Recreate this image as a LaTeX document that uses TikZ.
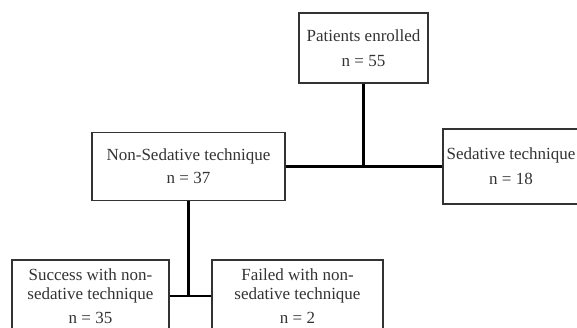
\documentclass[tikz,border=0pt]{standalone}
\usepackage{fontspec}
\setmainfont{Liberation Serif}
\usetikzlibrary{positioning}
\tikzset{
	x=1pt, y=-1pt, % one unit is one pixel of the layout, y grows downwards
	flowbox/.style={draw=black!80, line width=1.2pt, text=black!80, align=center, inner sep=0pt, font=\fontsize{17}{19}\selectfont}, % the boxes of the flow chart
	link/.style={line width=2.6pt, black}, % the thick connecting lines
}

\begin{document}
\begin{tikzpicture}
	\useasboundingbox (0,0) rectangle (577,328);
	\clip (0,0) rectangle (577,328);
			\node[flowbox, minimum width=129, minimum height=70] (enrolled) at (363.5,48) {Patients enrolled\\[6pt]n = 55};
			\node[flowbox, minimum width=193, minimum height=68] (nonsed) at (188.5,166.5) {Non-Sedative technique\\[4pt]n = 37};
			\node[flowbox, minimum width=136, minimum height=75] (sed) at (511,166.5) {Sedative technique\\[6pt]n = 18};
			\node[flowbox, minimum width=157, minimum height=72] (success) at (90.5,296) {Success with non-\\sedative technique\\[5pt]n = 35};
			\node[flowbox, minimum width=171, minimum height=72] (failed) at (297.5,296) {Failed with non-\\sedative technique\\[5pt]n = 2};
	\draw[link]	(nonsed) -- (sed)
			(enrolled) -- (enrolled |- nonsed.east)
			(success) -- (failed)
			(nonsed) -- (nonsed |- success.east);
\end{tikzpicture}
\end{document}
